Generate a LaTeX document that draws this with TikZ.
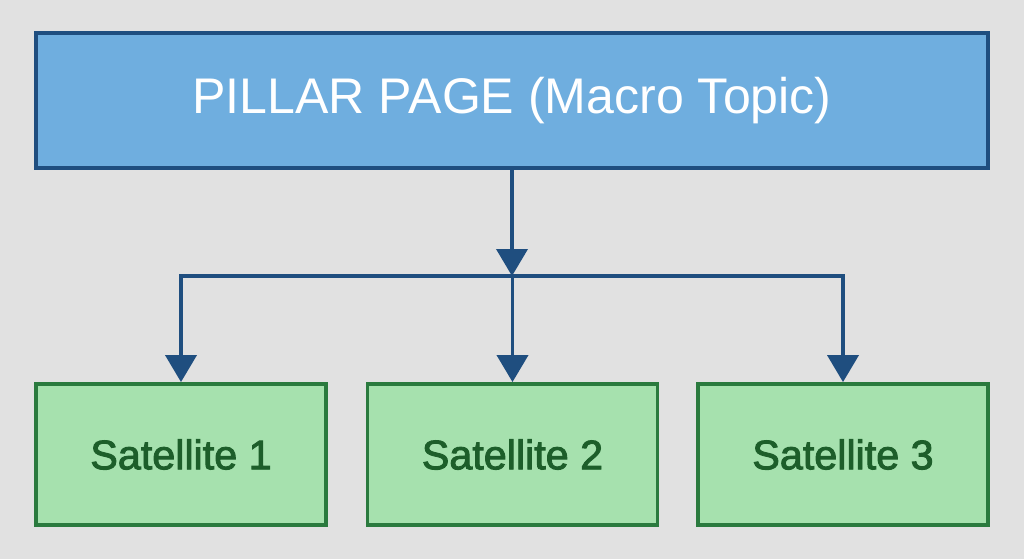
\documentclass[tikz,border=0pt]{standalone}
\usepackage{fontspec}
\setmainfont{Liberation Sans}
\newfontface\satfont{Liberation Sans}[FakeBold=2.2]
\usetikzlibrary{arrows.meta}

\definecolor{bgGrey}{HTML}{E1E1E1}
\definecolor{pillarFill}{HTML}{6FAEDF}
\definecolor{pillarLine}{HTML}{1F4E7F}
\definecolor{satFill}{HTML}{A6E1AE}
\definecolor{satLine}{HTML}{2A7A3E}
\definecolor{satText}{HTML}{1D5E2A}

\tikzset{
    pillar/.style={draw=pillarLine, fill=pillarFill, line width=2.2pt,
        minimum width=19.04cm, minimum height=2.7cm,
        text=white, font=\fontsize{28.5}{32}\selectfont},
    satellite/.style={draw=satLine, fill=satFill, line width=2.2pt,
        minimum width=5.8cm, minimum height=2.82cm,
        text=satText, font=\satfont\fontsize{23.5}{28}\selectfont},
    link/.style={draw=pillarLine, line width=2.2pt},
    linkArrow/.style={link, -{Triangle[width=0.62cm, length=0.54cm]}}
}

\begin{document}
\begin{tikzpicture}[x=0.02cm, y=-0.02cm]
        \fill[bgGrey] (0,0) rectangle (1024,559);

        \node[pillar] (pillar) at (512,100.5) {PILLAR PAGE (Macro Topic)};

        \node[satellite] (sat1) at (181,454.5) {Satellite 1};
        \node[satellite] (sat2) at (512.5,454.5) {Satellite 2};
        \node[satellite] (sat3) at (843,454.5) {Satellite 3};

        \coordinate (hub) at (512,276);
        \coordinate (hub1) at (sat1 |- hub);
        \coordinate (hub2) at (sat2 |- hub);
        \coordinate (hub3) at (sat3 |- hub);

        \draw[linkArrow] (pillar) -- (hub);
        \draw[link, line cap=rect] (hub1) -- (hub3);
        \draw[linkArrow] (hub1) -- (sat1);
        \draw[linkArrow] (hub2) -- (sat2);
        \draw[linkArrow] (hub3) -- (sat3);
    \end{tikzpicture}
\end{document}
